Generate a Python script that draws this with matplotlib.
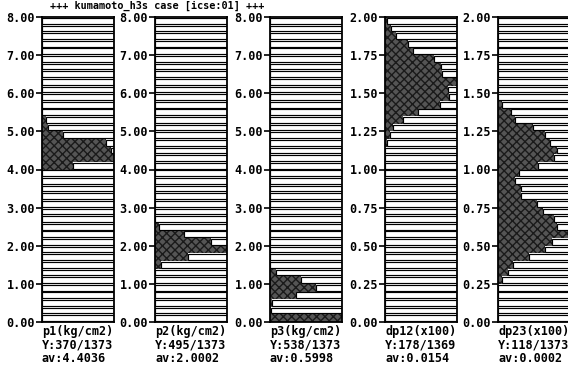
import numpy as np
import matplotlib.pyplot as plt

# histogram data: lower edge of each non-empty class and its frequency
p1_lo = [4.0, 4.2, 4.4, 4.6, 4.8, 5.0, 5.2]
p1_n = [160, 370, 355, 330, 110, 30, 18]

p2_lo = [1.4, 1.6, 1.8, 2.0, 2.2, 2.4]
p2_n = [43, 225, 495, 385, 200, 25]

p3_lo = [0.0, 0.2, 0.4, 0.6, 0.8, 1.0, 1.2]
p3_n = [538, 10, 16, 191, 340, 230, 48]

dp12_lo = [1.15, 1.20, 1.25, 1.30, 1.35, 1.40, 1.45, 1.50, 1.55,
           1.60, 1.65, 1.70, 1.75, 1.80, 1.85, 1.90, 1.95]
dp12_n = [5, 12, 20, 45, 82, 135, 158, 155, 178,
          142, 138, 122, 70, 58, 28, 15, 6]

dp23_lo = [0.25, 0.30, 0.35, 0.40, 0.45, 0.50, 0.55, 0.60, 0.65, 0.70, 0.75, 0.80,
           0.85, 0.90, 0.95, 1.00, 1.05, 1.10, 1.15, 1.20, 1.25, 1.30, 1.35, 1.40]
dp23_n = [6, 17, 24, 50, 77, 88, 118, 97, 91, 74, 64, 37,
          37, 28, 35, 66, 91, 97, 85, 77, 58, 28, 22, 6]

names = ['p1(kg/cm2)', 'p2(kg/cm2)', 'p3(kg/cm2)', 'dp12(x100)', 'dp23(x100)']
y_txt = ['Y:370/1373', 'Y:495/1373', 'Y:538/1373', 'Y:178/1369', 'Y:118/1373']
av_txt = ['av:4.4036', 'av:2.0002', 'av:0.5998', 'av:0.0154', 'av:0.0002']
ranges = [8.0, 8.0, 8.0, 2.0, 2.0]
tick_steps = [1.0, 1.0, 1.0, 0.25, 0.25]

panels = [(p1_lo, p1_n), (p2_lo, p2_n), (p3_lo, p3_n), (dp12_lo, dp12_n), (dp23_lo, dp23_n)]

W, H = 568, 372
fig = plt.figure(figsize=(W / 100, H / 100), dpi=100)
mono = 'DejaVu Sans Mono'

lefts = [42, 155, 270, 385, 498]
pw = 72
top_px, bot_px = 17, 322

for i, (lo, n) in enumerate(panels):
    top = ranges[i]
    bw = top / 40
    counts = np.zeros(40)
    counts[np.round(np.array(lo) / bw).astype(int)] = n
    ymax = max(n)
    edges = np.arange(40) * bw

    ax = fig.add_axes([lefts[i] / W, 1 - bot_px / H, pw / W, (bot_px - top_px) / H])

    # shaded frequency bars
    ax.barh(edges, counts, height=bw, align='edge', color='#555555',
            hatch='xxxx', edgecolor='#1a1a1a', linewidth=0)
    # empty part of each class row
    rest = ymax - counts
    keep = rest > 0
    ax.barh(edges[keep] + bw * 0.12, rest[keep], left=counts[keep], height=bw * 0.76,
            align='edge', facecolor='white', edgecolor='black', linewidth=0.85)

    ax.set_xlim(0, ymax)
    ax.set_ylim(0, top)
    ax.set_xticks([])
    ticks = np.arange(0, top + 1e-9, tick_steps[i])
    ax.set_yticks(ticks)
    ax.set_yticklabels(['%.2f' % t for t in ticks], fontfamily=mono,
                       fontweight='bold', fontsize=8.5)
    ax.tick_params(axis='y', direction='out', length=4, width=1.2, pad=1)
    for s in ax.spines.values():
        s.set_linewidth(1.3)

    x0 = lefts[i] / W
    for row, txt in zip([331, 345, 359], [names[i], y_txt[i], av_txt[i]]):
        fig.text(x0, 1 - row / H, txt, fontfamily=mono, fontweight='bold',
                 fontsize=8.5, va='center')

fig.text(50 / W, 1 - 6 / H, '+++ kumamoto_h3s case [icse:01] +++',
         fontfamily=mono, fontweight='bold', fontsize=7.3, va='center')

fig.savefig('out.png', dpi=100)
